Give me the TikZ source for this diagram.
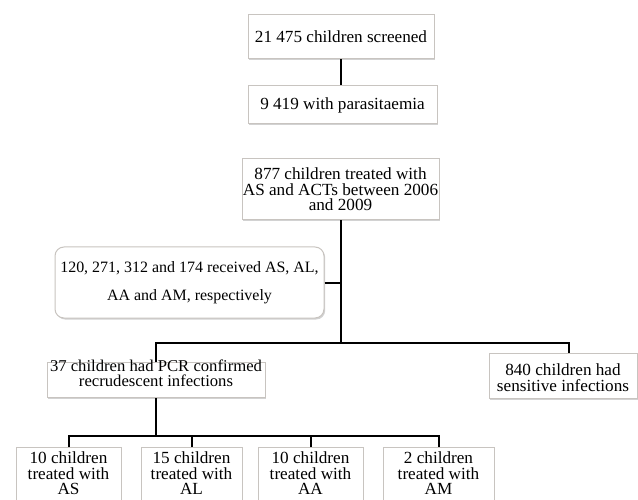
\documentclass[tikz,border=0pt]{standalone}
\usepackage{fontspec}
\setmainfont{Liberation Serif}[FakeStretch=1.01]
\usetikzlibrary{shadows}
\definecolor{boxgray}{RGB}{200,196,192}
\begin{document}
\begin{tikzpicture}[x=1pt,y=-1pt,
  box/.style={draw=boxgray, line width=1pt, fill=white, inner sep=0pt, align=center,
    font=\fontsize{17}{15.5}\selectfont,
    drop shadow={shadow xshift=1.2pt, shadow yshift=-1.5pt, opacity=0.25, fill=black!70}},
  leaf/.style={box, anchor=north, minimum height=0pt, text height=47pt, text depth=14pt},
  conn/.style={line width=2pt, black}]
\clip (0,0) rectangle (638,500);
\fill[white] (0,0) rectangle (638,500);
% boxes
\node[box, minimum width=186pt, minimum height=44pt] (b1) at (341,37) {21 475 children screened};
\node[box, minimum width=189pt, minimum height=38pt] (b2) at (342.5,105) {9 419 with parasitaemia};
\node[box, minimum width=197pt, minimum height=61pt] (b3) at (340.5,189.5) {877 children treated with\\AS and ACTs between 2006\\and 2009};
\node[box, rounded corners=9pt, minimum width=269pt, minimum height=71pt, font=\fontsize{15.8}{28}\selectfont] (rb) at (189.5,282.5) {120, 271, 312 and 174 received AS, AL,\\AA and AM, respectively};
\node[box, anchor=north, minimum width=218pt, text height=24pt, text depth=11pt, font=\fontsize{16.5}{15}\selectfont] (b37) at (156,362) {37 children had PCR confirmed\\recrudescent infections};
\node[box, anchor=north, minimum width=148pt, text height=38pt, text depth=7pt, font=\fontsize{17}{16}\selectfont] (b840) at (563,353) {840 children had\\sensitive infections};
\node[leaf, minimum width=105pt] (bas) at (68.5,447) {10 children\\treated with\\AS};
\node[leaf, minimum width=101pt] (bal) at (191.5,447) {15 children\\treated with\\AL};
\node[leaf, minimum width=105pt] (baa) at (310.5,447) {10 children\\treated with\\AA};
\node[leaf, minimum width=111pt] (bam) at (438.5,447) {2 children\\treated with\\AM};
% levels
\coordinate (lvl1) at (0,343);
\coordinate (lvl2) at (0,436);
\coordinate (j1) at (b3.south |- lvl1);
\coordinate (j2) at (b37.south |- lvl2);
% connectors
\draw[conn] (b1.south) -- (b1.south |- b2.north);
\draw[conn] (b3.south) -- (j1);
\draw[conn] (rb.east) -- (rb.east -| j1);
\draw[conn] (b37.north) |- (j1) -| ([xshift=6pt]b840.north);
\draw[conn] (b37.south) -- (j2);
\draw[conn] (bas.north) |- (bam.north |- j2) -- (bam.north);
\draw[conn] (bal.north) -- (bal.north |- j2);
\draw[conn] (baa.north) -- (baa.north |- j2);
\end{tikzpicture}
\end{document}
